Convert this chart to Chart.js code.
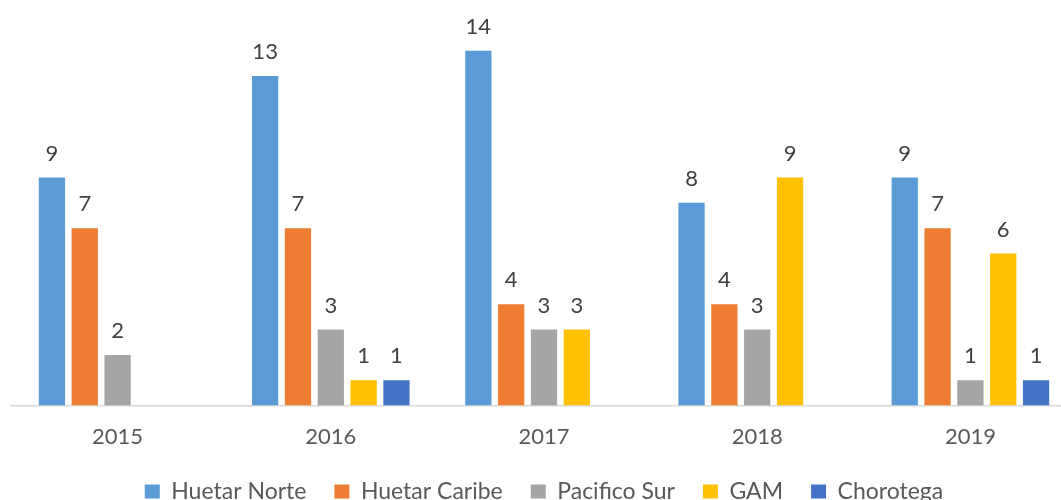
<!DOCTYPE html>
<html>
<head>
<meta charset="utf-8">
<script src="https://cdn.jsdelivr.net/npm/chart.js@4"></script>
<style>
  html, body { margin: 0; padding: 0; background: #fff; overflow: hidden; }
  #wrap { width: 1080px; height: 500px; }
</style>
</head>
<body>
<div id="wrap"><canvas id="chart" width="1080" height="500"></canvas></div>
<script>
// Datos del gráfico
const years = ["2015", "2016", "2017", "2018", "2019"];
const huetarNorte = [9, 13, 14, 8, 9];
const huetarCaribe = [7, 7, 4, 4, 7];
const pacificoSur = [2, 3, 3, 3, 1];
const gam = [null, 1, 3, 9, 6];
const chorotega = [null, 1, null, null, 1];

const textColor = "#595959";
const fontFamily = "Lato, 'Open Sans', sans-serif";

// Etiquetas de valor sobre cada barra
const valueLabels = {
  id: "valueLabels",
  afterDatasetsDraw(chart) {
    const ctx = chart.ctx;
    ctx.save();
    ctx.font = "22px " + fontFamily;
    ctx.fillStyle = "#404040";
    ctx.textAlign = "center";
    ctx.textBaseline = "bottom";
    chart.data.datasets.forEach((ds, i) => {
      const meta = chart.getDatasetMeta(i);
      meta.data.forEach((bar, j) => {
        const v = ds.data[j];
        if (v === null || v === undefined) return;
        ctx.fillText(String(v), bar.x, bar.y - 13);
      });
    });
    ctx.restore();
  },
};

function serie(label, data, color) {
  return {
    label: label,
    data: data,
    backgroundColor: color,
    borderWidth: 0,
    categoryPercentage: 0.77,
    barPercentage: 0.8,
  };
}

new Chart(document.getElementById("chart").getContext("2d"), {
  type: "bar",
  data: {
    labels: years,
    datasets: [
      serie("Huetar Norte", huetarNorte, "#5B9BD5"),
      serie("Huetar Caribe", huetarCaribe, "#ED7D31"),
      serie("Pacifico Sur", pacificoSur, "#A5A5A5"),
      serie("GAM", gam, "#FFC000"),
      serie("Chorotega", chorotega, "#4472C4"),
    ],
  },
  options: {
    responsive: false,
    animation: false,
    layout: { padding: { left: 11, right: 3, top: 0, bottom: -13 } },
    plugins: {
      legend: {
        position: "bottom",
        labels: {
          color: textColor,
          font: { family: fontFamily, size: 23 },
          boxWidth: 15,
          boxHeight: 14,
          padding: 28,
        },
      },
      tooltip: { enabled: false },
    },
    scales: {
      x: {
        grid: { display: false },
        border: { color: "#D9D9D9", width: 1.5 },
        ticks: {
          color: textColor,
          font: { family: fontFamily, size: 22 },
          padding: 10,
        },
        afterFit: (scale) => {
          scale.height -= 8;
        },
      },
      y: {
        display: false,
        min: 0,
        max: 16,
      },
    },
  },
  plugins: [valueLabels],
});
</script>
</body>
</html>
